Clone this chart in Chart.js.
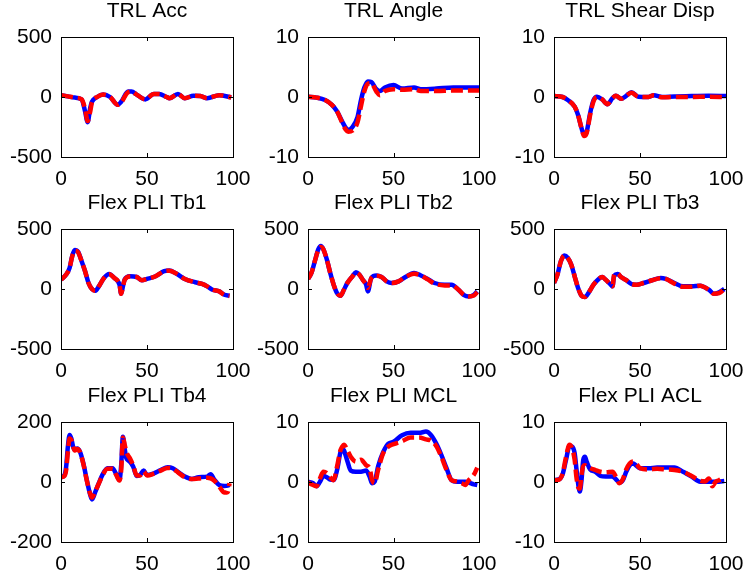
<!DOCTYPE html>
<html>
<head>
<meta charset="utf-8">
<script src="https://cdn.jsdelivr.net/npm/chart.js@4/dist/chart.umd.min.js"></script>
<style>
  html, body { margin: 0; padding: 0; background: #fff; overflow: hidden; }
  #wrap { position: relative; width: 743px; height: 578px; }
  #wrap canvas { position: absolute; }
</style>
</head>
<body>
<div id="wrap"></div>
<script>
// panel titles and y ranges
const titles = ['TRL Acc', 'TRL Angle', 'TRL Shear Disp',
                'Flex PLI Tb1', 'Flex PLI Tb2', 'Flex PLI Tb3',
                'Flex PLI Tb4', 'Flex PLI MCL', 'Flex PLI ACL'];
const yLimits = [500, 10, 10, 500, 500, 500, 200, 10, 10];
const xTicks = [0, 50, 100];

// TRL Acc
const accX = [0,4,8,12,14,15.5,17,18,21,24.5,28.5,33,35,39,41,44,49,54,57,61.5,63,68,72,77,81,85,92,99];
const accBlue = [15,5,-5,-20,-120,-210,-90,-40,0,20,0,-65,-40,45,45,20,-20,25,25,0,-10,25,-10,10,8,-10,15,-3];
const accRed = [15,5,-5,-20,-100,-200,-120,-45,0,20,0,-65,-45,40,45,20,-20,25,25,0,-10,25,-10,10,8,-10,15,-3];

// TRL Angle
const angX = [0,5,10,14,17,20,22,23.5,26,29,31,33,35,37,40,42,45,50,55,62,66,75,85,100];
const angBlue = [0.05,-0.1,-0.5,-1.3,-2.4,-4.1,-5.1,-5.5,-5,-3.3,-0.5,1.6,2.6,2.5,1.3,1,1.6,2,1.4,1.6,1.3,1.4,1.6,1.6];
const angRed = [0.05,-0.1,-0.5,-1.3,-2.4,-4.3,-5.4,-5.8,-5.6,-4.2,-1.5,1.0,2.2,2.3,0.9,0.3,1.0,1.3,1.2,1.3,1.0,1.0,1.1,1.1];

// TRL Shear Disp
const shX = [0,5,8,12,14,16,17.5,19,21,23,25,28,31,34,36,39,42,45,49,55,58,63,70,80,90,100];
const shBlue = [0.15,0,-0.5,-1.6,-3,-5.2,-6.3,-5.8,-2.7,-0.5,0.05,-0.4,-1.2,-0.2,0.2,-0.3,0.2,0.8,0.05,0,0.3,0,0.1,0.15,0.2,0.15];
const shRed = [0.15,0,-0.5,-1.6,-3,-5.2,-6.5,-6.0,-3.0,-0.7,0,-0.4,-1.2,-0.2,0.2,-0.3,0.2,0.7,0.05,0,0.3,-0.05,0,0,0.05,0];

// Flex PLI Tb1
const tb1X = [0,3,5,6.5,8,10,12,14,16,18,20,22,25,28,31,34,35,36,37,40,44,47,50,55,60,63,67,72,78,82,85,88,92,95,98];
const tb1Blue = [78,120,176,274,325,308,232,148,50,0,-14,22,92,126,92,36,-40,22,78,106,100,73,84,106,148,154,129,84,56,42,22,-6,-20,-48,-56];
const tb1Red = [78,120,176,270,320,305,230,148,50,0,-14,22,92,122,92,36,-40,20,75,104,100,73,84,106,148,152,129,84,56,42,22,-6,-20,-50,-58];

// Flex PLI Tb2
const tb2X = [0,2,4,6,7.5,9,11,13,15,17,19,21,23,26,28,30,32,34,35,37,40,43,46,49,53,57,62,66,70,74,80,84,88,91,94,97,99];
const tb2Blue = [84,134,232,330,358,330,246,134,36,-34,-56,-6,50,106,140,120,78,36,-20,92,112,100,64,50,64,100,134,112,84,50,36,36,-6,-48,-62,-48,-20];
const tb2Red = [84,134,232,325,350,330,246,134,36,-34,-56,-6,50,106,135,120,78,36,10,90,110,100,64,50,64,100,128,112,80,45,30,30,-6,-48,-62,-55,-25];

// Flex PLI Tb3
const tb3X = [0,2,4,6,8,10,12,14,16,18,20,23,26,28,30,33,34,35,37,39,42,45,48,52,57,62,65,70,75,80,85,90,93,96,99];
const tb3Blue = [50,120,232,280,260,204,106,8,-56,-67,-34,36,84,100,78,36,22,110,125,100,73,42,36,50,73,92,84,50,22,22,28,-6,-40,-28,0];
const tb3Red = [50,120,232,280,260,204,106,8,-56,-67,-34,36,84,100,78,36,22,120,128,100,73,42,36,50,73,90,84,45,18,18,28,-6,-40,-35,0];

// Flex PLI Tb4
const tb4X = [0,2,3,4,5,6,7,8,9.5,11,13,15,17,18,20,22,24,27,30,32,34,35,36,37,38,40,42,44,46,48,50,54,58,62,65,68,72,76,80,85,87,89,92,95,97,98];
const tb4Blue = [16,23,51,118,157,145,118,107,112,101,62,7,-43,-58,-32,-4,23,46,46,27,7,57,151,112,79,68,51,20,23,38,23,29,40,49,46,34,18,10,16,18,26,9,-10,-13,-12,-10];
const tb4Red = [16,20,40,100,145,140,120,105,110,100,60,5,-40,-52,-30,-5,20,44,44,25,5,40,148,125,100,80,55,22,22,35,22,28,38,47,44,32,16,10,12,14,12,5,-15,-35,-33,-4];

// Flex PLI MCL
const mclX = [0,3,5,7,9,11,13,15,17,19,20,21,23,25,28,31,34,36,37.5,39,41,44,47,50,55,60,65,69,72,75,78,81,84,87,90,92,94,97,99];
const mclBlue = [0.05,-0.2,-0.7,0.05,1,0.8,0.4,0.35,2.0,5.0,5.6,5.3,3.5,1.9,1.7,1.7,1.9,0.9,-0.2,0.05,2.6,5,6.4,6.7,7.8,8.2,8.2,8.4,7.8,6.4,4.5,2.3,0.3,0.05,0.05,0.05,-0.1,-0.4,-0.5];
const mclRed = [-0.1,-0.5,-0.7,0.6,1.7,1.5,0.8,0.3,2.6,5.3,5.9,6.2,5.3,4.2,3.4,3.7,2.8,2.3,0.3,-0.2,2,4.8,5.9,6.3,6.8,7.4,7.4,7.1,6.9,6.0,4.2,2.0,0.3,0.1,-0.2,-0.5,0.3,1.2,2.4];

// Flex PLI ACL
const aclX = [0,3,5,7,9,10.5,12,13,14,15,16,17,18,19,21,24,27,30,34,36,38,40,42,44,46,48,50,55,60,65,70,75,80,85,88,90,92,94,96,99];
const aclBlue = [0.3,0.45,1.3,3.7,6,5.9,4.8,2.3,-0.2,-1.6,0.3,3.7,4.2,3.4,2.1,1.7,1.0,0.9,0.9,0.45,-0.1,0.3,1.7,2.8,3.1,2.7,2.3,2.3,2.4,2.4,2.4,1.7,0.9,0.05,0.05,0.05,0.05,0.05,0.05,0.15];
const aclRed = [0.3,0.4,1.4,4.2,6.2,5.6,3.7,0.9,-0.8,-1.1,1.2,2.6,2.8,2.6,2.3,2.0,1.7,1.6,1.7,0.9,-0.2,0.45,2.1,3.1,3.4,3.0,2.3,2.1,2.2,2.1,2.0,1.7,1.0,0.2,0.1,0.6,-0.7,0.05,0.3,0.8];

const panelX = [accX, angX, shX, tb1X, tb2X, tb3X, tb4X, mclX, aclX];
const panelBlue = [accBlue, angBlue, shBlue, tb1Blue, tb2Blue, tb3Blue, tb4Blue, mclBlue, aclBlue];
const panelRed = [accRed, angRed, shRed, tb1Red, tb2Red, tb3Red, tb4Red, mclRed, aclRed];

// plot box positions (MATLAB subplot grid)
const colLeft = [61, 308, 554];
const colWidth = [172, 171, 172];
const rowTop = [37, 229, 422];
const plotH = 120;
const padL = 62, padR = 30, padT = 40, padB = 34;

Chart.defaults.font.family = "'Liberation Sans', Arial, sans-serif";
Chart.defaults.color = '#000';

// axes box with inward ticks, like MATLAB
const boxPlugin = {
  id: 'box',
  afterDatasetsDraw(chart) {
    const a = chart.chartArea, c = chart.ctx;
    const xs = chart.scales.x, ys = chart.scales.y;
    c.save();
    c.strokeStyle = '#000';
    c.lineWidth = 1;
    c.strokeRect(Math.round(a.left) + 0.5, Math.round(a.top) + 0.5,
                 Math.round(a.right - a.left), Math.round(a.bottom - a.top));
    c.beginPath();
    const tx = Math.round(xs.getPixelForValue(50)) + 0.5;
    c.moveTo(tx, a.top); c.lineTo(tx, a.top + 4);
    c.moveTo(tx, a.bottom); c.lineTo(tx, a.bottom - 4);
    const ty = Math.round(ys.getPixelForValue(0)) + 0.5;
    c.moveTo(a.left, ty); c.lineTo(a.left + 4, ty);
    c.moveTo(a.right, ty); c.lineTo(a.right - 4, ty);
    c.stroke();
    c.restore();
  }
};

const wrap = document.getElementById('wrap');

titles.forEach(function(title, i) {
  const col = i % 3, row = Math.floor(i / 3);
  const cv = document.createElement('canvas');
  const w = colWidth[col] + padL + padR, h = plotH + padT + padB;
  cv.width = w; cv.height = h;
  cv.style.left = (colLeft[col] - padL) + 'px';
  cv.style.top = (rowTop[row] - padT) + 'px';
  cv.style.width = w + 'px'; cv.style.height = h + 'px';
  wrap.appendChild(cv);

  const xs = panelX[i];
  const lim = yLimits[i];

  new Chart(cv.getContext('2d'), {
    type: 'line',
    data: {
      datasets: [{
        data: xs.map((x, k) => ({ x: x, y: panelRed[i][k] })),
        borderColor: '#ff0000',
        borderWidth: 4.5,
        borderDash: [12, 5],
        pointRadius: 0,
        cubicInterpolationMode: 'monotone'
      }, {
        data: xs.map((x, k) => ({ x: x, y: panelBlue[i][k] })),
        borderColor: '#0000ff',
        borderWidth: 4.5,
        pointRadius: 0,
        cubicInterpolationMode: 'monotone'
      }]
    },
    options: {
      responsive: false,
      animation: false,
      devicePixelRatio: 1,
      layout: { padding: { left: 0, right: padR, top: 0, bottom: 0 } },
      scales: {
        x: {
          type: 'linear',
          min: xTicks[0],
          max: xTicks[xTicks.length - 1],
          afterBuildTicks: s => { s.ticks = xTicks.map(v => ({ value: v })); },
          afterFit: s => { s.height = padB; },
          ticks: { font: { size: 21 }, padding: 10, maxRotation: 0 },
          grid: { display: false, drawTicks: false },
          border: { display: false }
        },
        y: {
          min: -lim,
          max: lim,
          afterBuildTicks: s => { s.ticks = [-lim, 0, lim].map(v => ({ value: v })); },
          afterFit: s => { s.width = padL; },
          ticks: { font: { size: 21 }, padding: 9 },
          grid: { display: false, drawTicks: false },
          border: { display: false }
        }
      },
      plugins: {
        legend: { display: false },
        tooltip: { enabled: false },
        title: {
          display: true,
          text: title,
          fullSize: false,
          font: { size: 21, weight: 'normal' },
          color: '#000',
          padding: { top: 2, bottom: 12.8 }
        }
      }
    },
    plugins: [boxPlugin]
  });
});
</script>
</body>
</html>
